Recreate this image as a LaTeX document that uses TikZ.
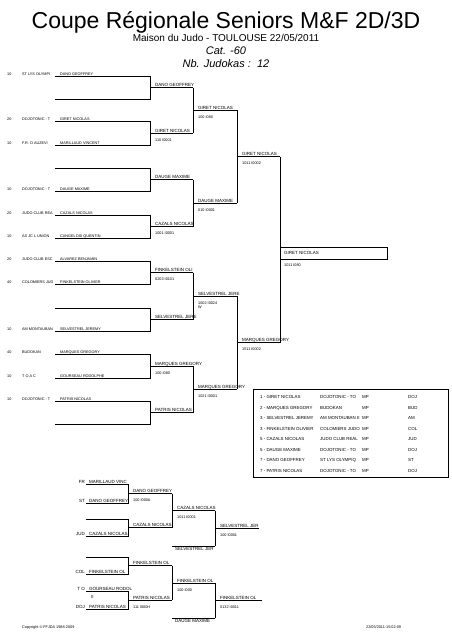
\documentclass[tikz,border=0pt]{standalone}
\usepackage{fontspec}
\setmainfont{Liberation Sans}
\tikzset{
  br/.style={line width=0.9pt},
  wl/.style={line width=0.5pt},
  tiny/.style={font=\fontsize{3.8}{4.2}\selectfont, inner sep=0pt, anchor=base west},
  nm/.style={font=\fontsize{4.5}{5}\selectfont, inner sep=0pt, anchor=base west},
  nmr/.style={font=\fontsize{4.5}{5}\selectfont, inner sep=0pt, anchor=base east},
  tb/.style={font=\fontsize{4.4}{5}\selectfont, inner sep=0pt, anchor=base west},
}
\newcommand\mywin[6]{%
  \draw[wl] (#1,#3) -- (#2,#3);
  \node[nm] (#6) at ({#1+5},{#3-1}) {#4};
  \node[tiny] (#6s) at ({#1+5},{#3+8}) {#5};
}
\begin{document}
\begin{tikzpicture}[x=1pt,y=-1pt]
\useasboundingbox (0,0) rectangle (452,640);
% header
\node[font=\fontsize{23}{25}\selectfont] (title) at (226,22) {Coupe Régionale Seniors M\&F 2D/3D};
\node[font=\fontsize{10}{12}\selectfont] (sub) at (226,37.5) {Maison du Judo - TOULOUSE 22/05/2011};
\node[font=\itshape\fontsize{11}{12}\selectfont] (cat) at (226,50.5) {Cat. -60};
\node[font=\itshape\fontsize{11}{12}\selectfont] (nb) at (226,63.5) {Nb. Judokas :\ \ 12};
% main bracket, round 1
\foreach \ya/\yb in {76/99,121/145,168/191,215/238,261/284,308/331,354/378,401/424}
  \draw[br] (55,\ya) -- (150,\ya) -- (150,\yb) -- (55,\yb);
\foreach \y/\g/\c/\p [count=\i] in {76/10/ST LYS OLYMPI/DANO GEOFFREY,
  121/20/DOJOTONIC - T/GIRET NICOLAS, 145/10/F.R. O AUZEVI/MARILLAUD VINCENT,
  191/10/DOJOTONIC - T/DAUGE MAXIME, 215/20/JUDO CLUB REA/CAZALS NICOLAS,
  238/10/AS JC L UNION/CANGELOSI QUENTIN, 261/20/JUDO CLUB ESC/ALVAREZ BENJAMIN,
  284/40/COLOMIERS JUD/FINKELSTEIN OLIVIER, 331/10/AM MONTAUBAN/SELVESTREL JEREMY,
  354/40/BUDOKAN/MARQUES GREGORY, 378/10/T O A C/GOURSEAU RODOLPHE,
  401/10/DOJOTONIC - T/PATRIS NICOLAS}
{
  \node[tiny] (g\i) at (7,\y-1) {\g};
  \node[tiny] (c\i) at (22,\y-1) {\c};
  \node[tiny] (p\i) at (60,\y-1) {\p};
}
% round 1 winners
\mywin{150}{193}{87.5}{DANO GEOFFREY}{}{wa}
\mywin{150}{193}{133}{GIRET NICOLAS}{110 I0001}{wb}
\mywin{150}{193}{179.5}{DAUGE MAXIME}{}{wc}
\mywin{150}{193}{226.5}{CAZALS NICOLAS}{1001 I0001}{wd}
\mywin{150}{193}{272.5}{FINKELSTEIN OLI}{0203 I0101}{we}
\mywin{150}{193}{319.5}{SELVESTREL JERE}{}{wf}
\mywin{150}{193}{366}{MARQUES GREGORY}{100 I080}{wg}
\mywin{150}{193}{412.5}{PATRIS NICOLAS}{}{wh}
\foreach \ya/\yb in {87.5/133,179.5/226.5,272.5/319.5,366/412.5}
  \draw[br] (193,\ya) -- (193,\yb);
% round 2 winners
\mywin{193}{237}{110.25}{GIRET NICOLAS}{100 I080}{xa}
\mywin{193}{237}{203}{DAUGE MAXIME}{010 I0001}{xb}
\mywin{193}{237}{296}{SELVESTREL JERE}{1002 I0024}{xc}
\node[tiny] (xcw) at (198,308.5) {W};
\mywin{193}{237}{389.25}{MARQUES GREGORY}{1021 I0001}{xd}
\draw[br] (237,110.25) -- (237,203);
\draw[br] (237,296) -- (237,389.25);
% round 3 winners
\mywin{237}{280}{156.6}{GIRET NICOLAS}{1011 I0002}{ya}
\mywin{237}{280}{342.6}{MARQUES GREGORY}{1511 I0002}{yb}
\draw[br] (280,156.6) -- (280,342.6);
% final
\draw[line width=0.8pt] (280,247) rectangle (387,259);
\node[nm] (fin) at (284,254.6) {GIRET NICOLAS};
\node[tiny] (fins) at (284,266.4) {1011 I080};
% results table
\draw[line width=0.8pt] (253,389) rectangle (448,477);
\foreach \y/\a/\b/\c [count=\i] in {397/1 - GIRET NICOLAS/DOJOTONIC - TO/DOJ,
  407.5/2 - MARQUES GREGORY/BUDOKAN/BUD,
  418/3 - SELVESTREL JEREMY/AM MONTAUBAN II/AM,
  428.5/3 - FINKELSTEIN OLIVIER/COLOMIERS JUDO/COL,
  439/5 - CAZALS NICOLAS/JUDO CLUB REAL/JUD,
  449.5/5 - DAUGE MAXIME/DOJOTONIC - TO/DOJ,
  460/7 - DANO GEOFFREY/ST LYS OLYMPIQ/ST,
  470.5/7 - PATRIS NICOLAS/DOJOTONIC - TO/DOJ}
{
  \node[tb] (ta\i) at (260,\y+1.6) {\a};
  \node[tb] (tb\i) at (320,\y+1.6) {\b};
  \node[tb] (tc\i) at (362,\y+1.6) {MP};
  \node[tb] (td\i) at (408,\y+1.6) {\c};
}
% repechage
\foreach \ya/\yb in {484/503,519/536,557/574,591/609}
  \draw[br] (86,\ya) -- (128,\ya) -- (128,\yb) -- (86,\yb);
\foreach \y/\c/\p [count=\i] in {484/FR/MARILLAUD VINC, 503/ST/DANO GEOFFREY,
  536/JUD/CAZALS NICOLAS, 574/COL/FINKELSTEIN OL, 591/T O/GOURSEAU RODOL,
  609/DOJ/PATRIS NICOLAS}
{
  \node[nmr] (rc\i) at (85,\y-1) {\c};
  \node[nm] (rp\i) at (89,\y-1) {\p};
}
\node[nm] (rii) at (91,598.5) {II};
\mywin{128}{172}{493.5}{DANO GEOFFREY}{100 I000A}{ra}
\mywin{128}{172}{527.5}{CAZALS NICOLAS}{}{rb}
\mywin{128}{172}{565.5}{FINKELSTEIN OL}{}{rc}
\mywin{128}{172}{600}{PATRIS NICOLAS}{111 I000H}{rd}
\draw[br] (172,493.5) -- (172,527.5);
\draw[br] (172,565.5) -- (172,600);
\mywin{172}{215}{510.5}{CAZALS NICOLAS}{1011 I0001}{re}
\mywin{172}{215}{583}{FINKELSTEIN OL}{100 I000}{rf}
\draw[br] (172,546) -- (215,546);
\node[nm, anchor=north west] (rsel) at (175,547) {SELVESTREL JER};
\draw[br] (172,618) -- (215,618);
\node[nm, anchor=north west] (rdau) at (175,619) {DAUGE MAXIME};
\draw[br] (215,510.5) -- (215,546);
\draw[br] (215,583) -- (215,618);
\mywin{215}{259}{528.25}{SELVESTREL JER}{100 I0001}{rg}
\mywin{215}{262}{600.5}{FINKELSTEIN OL}{0132 I0011}{rh}
% footer
\node[tiny] (copy) at (22,628.4) {Copyright © FFJDA 1988-2009};
\node[tiny] (date) at (366,628.4) {22/05/2011-15:02:09};
\end{tikzpicture}
\end{document}
